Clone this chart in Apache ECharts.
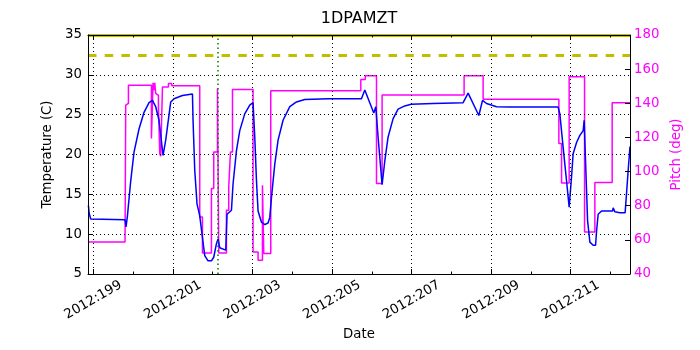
<!DOCTYPE html>
<html>
<head>
<meta charset="utf-8">
<script src="https://cdn.jsdelivr.net/npm/echarts@6/dist/echarts.min.js"></script>
<style>
  html, body { margin: 0; padding: 0; background: #fff; }
  #chart { width: 700px; height: 350px; }
</style>
</head>
<body>
<div id="chart"></div>
<script>
// 1DPAMZT temperature and spacecraft pitch, 2012 day-of-year

// Temperature samples (day of year, deg C)
const tempDays = [
  198.879, 198.90, 198.937, 198.98, 199.80, 199.825, 199.86, 199.943, 200.026, 200.151,
  200.277, 200.403, 200.488, 200.528, 200.571, 200.654, 200.755, 200.822, 200.948, 201.031,
  201.242, 201.494, 201.509, 201.552, 201.609, 201.677, 201.72, 201.745, 201.803, 201.886,
  201.971, 202.029, 202.097, 202.137, 202.18, 202.223, 202.331, 202.363, 202.474, 202.514,
  202.6, 202.683, 202.808, 202.934, 203.017, 203.06, 203.103, 203.143, 203.228, 203.311,
  203.394, 203.437, 203.48, 203.563, 203.646, 203.771, 203.94, 204.108, 204.317, 204.902,
  205.742, 205.825, 206.051, 206.102, 206.159, 206.26, 206.328, 206.411, 206.537, 206.662,
  206.83, 206.99, 207.542, 208.296, 208.422, 208.691, 208.784, 208.884, 209.136, 209.47,
  210.684, 210.727, 210.81, 210.895, 210.961, 211.021, 211.061, 211.147, 211.23, 211.313,
  211.338, 211.381, 211.424, 211.482, 211.564, 211.625, 211.65, 211.69, 211.775, 212.052,
  212.067, 212.11, 212.235, 212.368, 212.444, 212.49
];
const tempValues = [
  13.6, 12.6, 11.9, 11.8, 11.8, 10.9, 12.3, 16.7, 20.3, 23.2,
  25.3, 26.5, 26.8, 26.6, 26.0, 24.3, 19.9, 21.8, 26.6, 27.0,
  27.4, 27.6, 24.3, 18.0, 13.8, 12.3, 12.2, 9.6, 7.3, 6.65,
  6.65, 7.1, 8.8, 9.4, 8.3, 8.1, 8.0, 12.5, 13.0, 16.3,
  20.5, 23.0, 25.1, 26.2, 26.5, 22.2, 16.7, 12.9, 11.5, 11.2,
  11.4, 12.1, 14.6, 18.8, 21.8, 24.3, 26.0, 26.6, 26.9, 27.0,
  27.0, 28.1, 25.2, 26.0, 22.2, 16.2, 19.2, 22.2, 24.5, 25.7,
  26.1, 26.3, 26.4, 26.5, 27.7, 24.9, 26.8, 26.4, 26.0, 25.95,
  25.95, 25.1, 20.9, 16.7, 13.4, 17.2, 20.1, 21.5, 22.4, 23.0,
  24.3, 18.0, 11.7, 9.0, 8.6, 8.6, 10.4, 12.5, 12.9, 12.9,
  13.3, 12.8, 12.7, 12.7, 18.0, 21.0
];

// Pitch commands (day the attitude changes, new pitch in deg)
const pitchDays = [
  198.869, 199.80, 199.817, 199.86, 199.885, 200.463, 200.503, 200.528, 200.546, 200.571,
  200.596, 200.639, 200.672, 200.697, 200.74, 200.89, 200.973, 201.677, 201.745, 201.971,
  202.029, 202.122, 202.155, 202.348, 202.406, 202.449, 202.5, 203.017, 203.143, 203.253,
  203.286, 203.462, 205.725, 205.838, 206.119, 206.26, 208.321, 208.799, 210.702, 210.77,
  210.961, 211.348, 211.607, 212.042, 212.49
];
const pitchValues = [
  58.8, 57.8, 138.9, 139.9, 150.6, 119.4, 152.0, 147.7, 152.0, 145.8,
  144.7, 137.9, 110.6, 109.0, 149.6, 151.6, 150.2, 73.4, 52.3, 90.1,
  111.5, 148.7, 52.3, 77.3, 91.0, 111.5, 148.1, 52.9, 48.0, 92.0,
  52.0, 147.3, 154.0, 156.1, 93.0, 144.9, 156.1, 142.4, 116.4, 93.3,
  155.5, 64.6, 93.6, 140.3, 140.3
];

// Temperature limits (deg C) and the marked event time
const limitSolid = 35;
const limitDashed = 32.5;
const eventDay = 202.137;

// Axis extents and tick positions
const dayRange = [198.869, 212.49];
const majorDays = [199, 201, 203, 205, 207, 209, 211];
const minorDays = [200, 202, 204, 206, 208, 210, 212];
const tempRange = [5, 35];
const pitchRange = [40, 180];

const FONT = 'DejaVu Sans';
const MAGENTA = '#ff00ff';
const dayLabel = v => '2012:' + String(Math.round(v)).padStart(3, '0');
const pairs = (xs, ys) => xs.map((x, i) => [x, ys[i]]);

function dayAxis(position, ticks, tickLen, opts) {
  return Object.assign({
    type: 'value',
    position: position,
    min: dayRange[0],
    max: dayRange[1],
    z: 5,
    axisLine: { show: false },
    axisTick: { show: true, inside: true, length: tickLen, customValues: ticks,
                lineStyle: { color: '#000', width: 1 } },
    axisLabel: { show: false },
    splitLine: { show: false }
  }, opts || {});
}

const chart = echarts.init(document.getElementById('chart'), null, { renderer: 'canvas' });

chart.setOption({
  animation: false,
  backgroundColor: '#fff',
  title: {
    text: '1DPAMZT',
    left: 359,
    top: 11,
    padding: 0,
    textAlign: 'center',
    textStyle: { fontFamily: FONT, fontSize: 16, fontWeight: 'normal', color: '#000' }
  },
  grid: { left: 88, top: 35, width: 542, height: 239, containLabel: false },
  xAxis: [
    dayAxis('bottom', majorDays, 5, {
      axisLine: { show: true, onZero: false, lineStyle: { color: '#000', width: 1 } },
      axisLabel: {
        show: true, customValues: majorDays, formatter: dayLabel,
        rotate: 30, align: 'center', verticalAlign: 'middle', margin: 26,
        fontFamily: FONT, fontSize: 13.3, color: '#000'
      },
      splitLine: { show: true, lineStyle: { color: '#000', width: 1, type: [1, 3] } },
      name: 'Date', nameLocation: 'middle', nameGap: 50,
      nameTextStyle: { fontFamily: FONT, fontSize: 13.3, color: '#000' }
    }),
    dayAxis('bottom', minorDays, 2.5),
    dayAxis('top', majorDays, 5, {
      axisLine: { show: true, onZero: false, lineStyle: { color: '#000', width: 1 } }
    }),
    dayAxis('top', minorDays, 2.5)
  ],
  yAxis: [
    {
      type: 'value', position: 'left', min: tempRange[0], max: tempRange[1], interval: 5, z: 5,
      axisLine: { show: true, onZero: false, lineStyle: { color: '#000', width: 1 } },
      axisTick: { show: true, inside: true, length: 5, lineStyle: { color: '#000' } },
      axisLabel: { margin: 6, fontFamily: FONT, fontSize: 13.3, color: '#000' },
      splitLine: { show: true, lineStyle: { color: '#000', width: 1, type: [1, 3] } },
      name: 'Temperature (C)', nameLocation: 'middle', nameGap: 27, nameRotate: 90,
      nameTextStyle: { fontFamily: FONT, fontSize: 13.3, color: '#000' }
    },
    {
      type: 'value', position: 'right', min: pitchRange[0], max: pitchRange[1], interval: 20, z: 5,
      axisLine: { show: true, onZero: false, lineStyle: { color: '#000', width: 1 } },
      axisTick: { show: true, inside: true, length: 5, lineStyle: { color: '#000' } },
      axisLabel: { margin: 4, fontFamily: FONT, fontSize: 13.3, color: MAGENTA },
      splitLine: { show: false },
      name: 'Pitch (deg)', nameLocation: 'middle', nameGap: 34, nameRotate: 90,
      nameTextStyle: { fontFamily: FONT, fontSize: 13.3, color: MAGENTA }
    }
  ],
  series: [
    {
      name: 'Temperature',
      type: 'line',
      xAxisIndex: 0, yAxisIndex: 0,
      data: pairs(tempDays, tempValues),
      showSymbol: false,
      lineStyle: { color: '#0000ff', width: 1.5 },
      z: 3,
      markLine: {
        silent: true,
        symbol: ['none', 'none'],
        label: { show: false },
        animation: false,
        data: [
          { yAxis: limitSolid, lineStyle: { color: '#bfbf00', width: 3, type: 'solid' } },
          { yAxis: limitDashed, lineStyle: { color: '#bfbf00', width: 3, type: [8.5, 8.2] } },
          { xAxis: eventDay, lineStyle: { color: '#008000', width: 1.5, type: [1.5, 3] } }
        ]
      }
    },
    {
      name: 'Pitch',
      type: 'line',
      xAxisIndex: 0, yAxisIndex: 1,
      step: 'end',
      data: pairs(pitchDays, pitchValues),
      showSymbol: false,
      lineStyle: { color: MAGENTA, width: 1.5 },
      z: 2
    }
  ]
});
</script>
</body>
</html>
